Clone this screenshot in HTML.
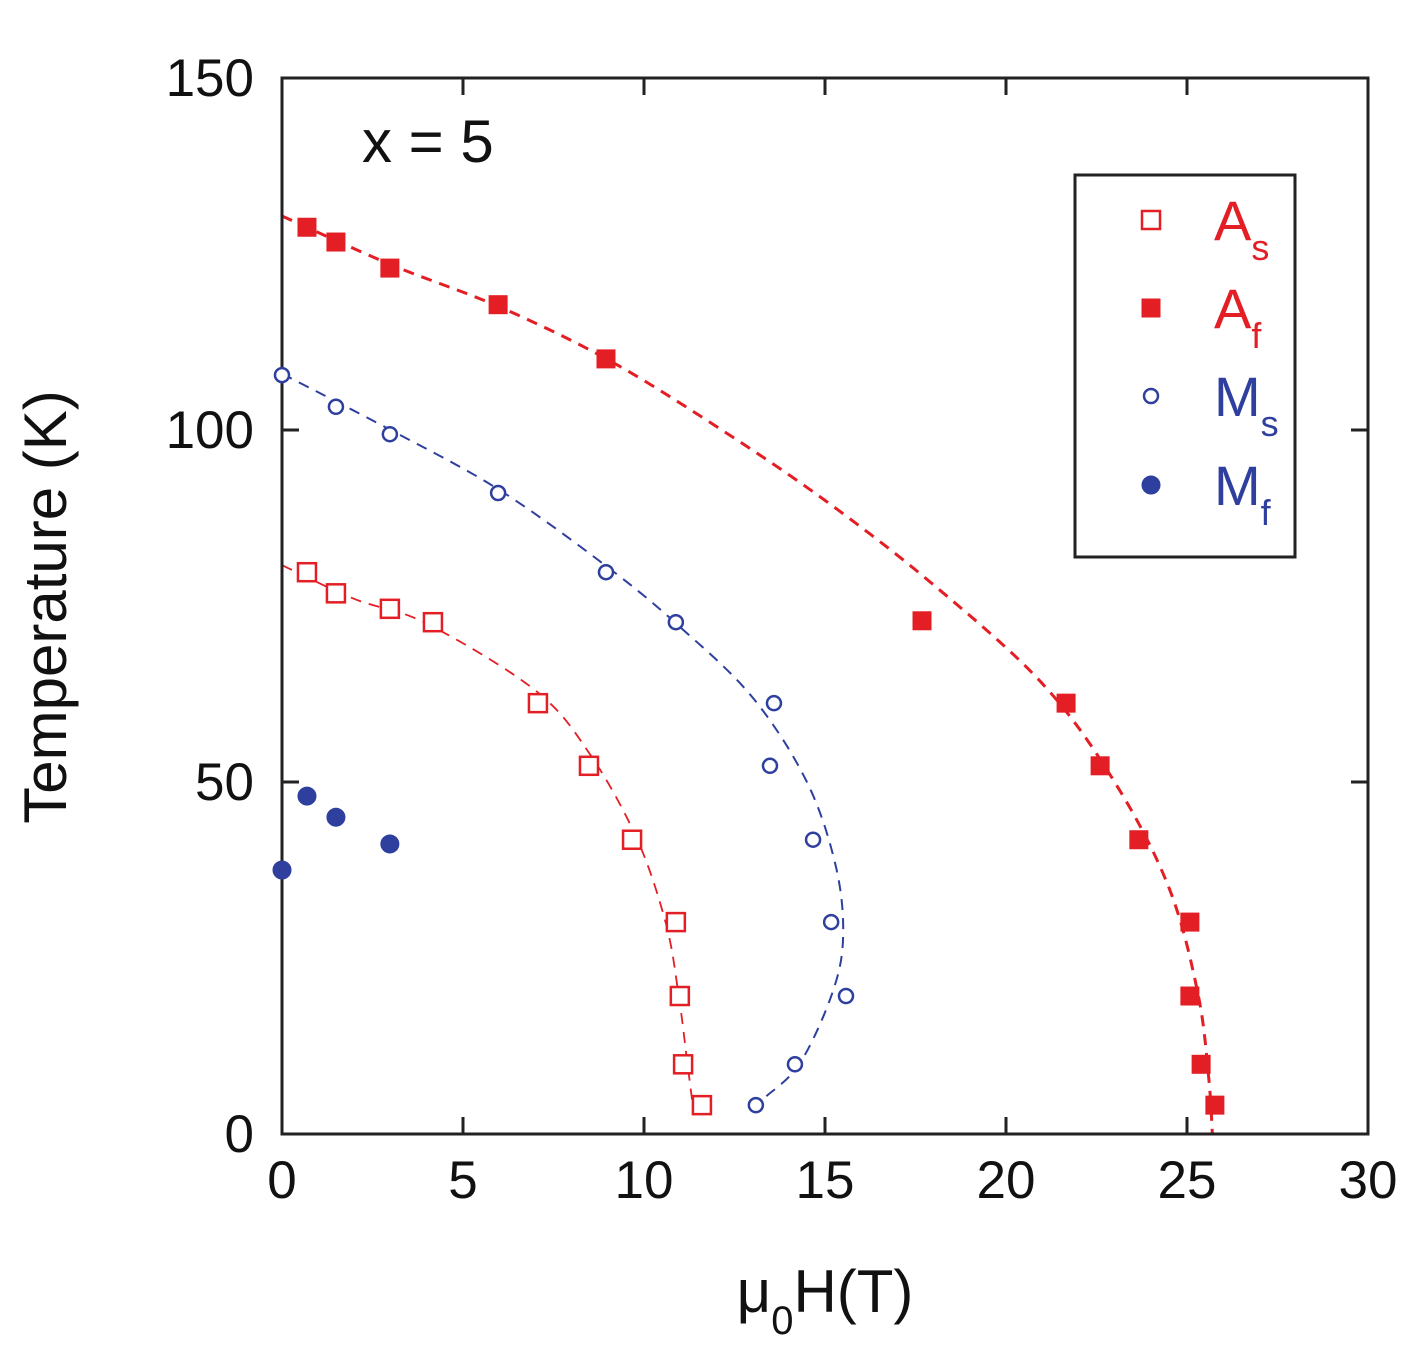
<!DOCTYPE html>
<html><head><meta charset="utf-8"><style>
html,body{margin:0;padding:0;background:#fff;}
svg{display:block;font-family:"Liberation Sans",sans-serif;}
</style></head><body>
<svg id="chart" width="1424" height="1370">
<g id="plot"></g>
</svg>
<script>
const xTicks=[0,5,10,15,20,25,30];
const yTicks=[0,50,100,150];
const afX=[0.69,1.49,2.98,5.97,8.95,17.68,21.66,22.6,23.67,25.08,25.08,25.39,25.77];
const afY=[128.8,126.7,123.0,117.8,110.1,72.9,61.2,52.3,41.8,30.1,19.6,9.9,4.1];
const asX=[0.69,1.49,2.98,4.17,7.07,8.48,9.67,10.88,10.99,11.08,11.6];
const asY=[79.8,76.8,74.6,72.7,61.2,52.3,41.8,30.1,19.6,9.9,4.1];
const msX=[0,1.49,2.98,5.97,8.95,10.88,13.59,13.48,14.67,15.17,15.58,14.17,13.09];
const msY=[107.8,103.3,99.4,91.05,79.8,72.7,61.2,52.3,41.8,30.1,19.6,9.9,4.1];
const mfX=[0,0.69,1.49,2.98];
const mfY=[37.5,48.0,45.0,41.2];
const afFitX=[0,3,6,9,12,15,18,21,23,24.5,25.3,25.6,25.7];
const afFitY=[130.4,123.5,117.5,110,100.5,90,78,64,50,35,20,8,0];
const asFitX=[0,2,4,7,8.5,9.8,10.6,10.95,11.2,11.35];
const asFitY=[80.8,76,72.5,63,54,42,30,20,10,4];
const msFitX=[0,3,6,9,11,13,14.5,15.3,15.5,15.2,14.3,13.3,12.9];
const msFitY=[108,100,91.5,80.5,72,62,50,38,28,20,10,5,3];

const X0=282,X1=1368,Y0=1134,Y1=78;
const sx=v=>X0+(v-0)/(30-0)*(X1-X0);
const sy=v=>Y0-(v-0)/(150-0)*(Y0-Y1);
const NS="http://www.w3.org/2000/svg";
const g=document.getElementById('plot');
function mk(t,a,p){const e=document.createElementNS(NS,t);for(const k in a)e.setAttribute(k,a[k]);(p||g).appendChild(e);return e;}
const RED="#e31e24",BLUE="#2e3f9e";

function curve(xs,ys,color,w,name){
  const pts=xs.map((x,i)=>[sx(x),sy(ys[i])]);
  let d="M"+pts[0][0]+","+pts[0][1];
  for(let i=0;i<pts.length-1;i++){
    const p0=pts[i-1]||pts[i],p1=pts[i],p2=pts[i+1],p3=pts[i+2]||p2;
    d+=" C"+(p1[0]+(p2[0]-p0[0])/6)+","+(p1[1]+(p2[1]-p0[1])/6)+" "+(p2[0]-(p3[0]-p1[0])/6)+","+(p2[1]-(p3[1]-p1[1])/6)+" "+p2[0]+","+p2[1];
  }
  const e=mk('path',{d:d,fill:'none',stroke:color,'stroke-width':w,'stroke-dasharray':'11,8'});
  
  
}
curve(afFitX,afFitY,RED,3,'af-fit-curve');
curve(asFitX,asFitY,RED,1.8,'as-fit-curve');
curve(msFitX,msFitY,BLUE,2,'ms-fit-curve');

const fr=mk('rect',{x:X0,y:Y1,width:X1-X0,height:Y0-Y1,fill:'none',stroke:'#222','stroke-width':3});


xTicks.forEach(t=>{
  const x=sx(t);
  if(t>0&&t<30){mk('line',{x1:x,x2:x,y1:Y0,y2:Y0-17,stroke:'#222','stroke-width':3});mk('line',{x1:x,x2:x,y1:Y1,y2:Y1+17,stroke:'#222','stroke-width':3});}
  const l=mk('text',{x:x,y:1198,'font-size':53,'text-anchor':'middle',fill:'#111'});l.textContent=t;
  
  
});
yTicks.forEach(t=>{
  const y=sy(t);
  if(t>0&&t<150){mk('line',{x1:X0,x2:X0+17,y1:y,y2:y,stroke:'#222','stroke-width':3});mk('line',{x1:X1,x2:X1-17,y1:y,y2:y,stroke:'#222','stroke-width':3});}
  const l=mk('text',{x:254,y:y+18,'font-size':53,'text-anchor':'end',fill:'#111'});l.textContent=t;
  
  
});

function sq(x,y,filled,name){
  const e=mk('rect',{x:x-9,y:y-9,width:18,height:18,fill:filled?RED:'#fff',stroke:RED,'stroke-width':filled?1:2.5});
  
  
}
function circ(x,y,filled,name){
  const e=mk('circle',{cx:x,cy:y,r:filled?9:7,fill:filled?BLUE:'#fff',stroke:BLUE,'stroke-width':filled?1:2.5});
  
  
}
asX.forEach((v,i)=>sq(sx(v),sy(asY[i]),false,'as-point'));
afX.forEach((v,i)=>sq(sx(v),sy(afY[i]),true,'af-point'));
msX.forEach((v,i)=>circ(sx(v),sy(msY[i]),false,'ms-point'));
mfX.forEach((v,i)=>circ(sx(v),sy(mfY[i]),true,'mf-point'));

let t=mk('text',{x:362,y:162,'font-size':60,fill:'#111'});t.textContent='x = 5';


t=mk('text',{x:825,y:1312,'font-size':60,'text-anchor':'middle',fill:'#111'});
t.innerHTML='μ<tspan font-size="40" dy="22">0</tspan><tspan dy="-22">H(T)</tspan>';


t=mk('text',{x:0,y:0,'font-size':60,'text-anchor':'middle',fill:'#111',transform:'translate(66,607) rotate(-90)'});
t.textContent='Temperature (K)';



const lg=mk('g',{});


mk('rect',{x:1075,y:175,width:220,height:382,fill:'#fff',stroke:'#222','stroke-width':3},lg);
const ent=[['A','s',RED,'sq',false,220],['A','f',RED,'sq',true,308],['M','s',BLUE,'c',false,396],['M','f',BLUE,'c',true,485]];
ent.forEach(e=>{
  const grp=mk('g',{},lg);
  
  
  if(e[3]=='sq'){mk('rect',{x:1142,y:e[5]-9,width:18,height:18,fill:e[4]?RED:'#fff',stroke:RED,'stroke-width':e[4]?1:2.5},grp);}
  else{mk('circle',{cx:1151,cy:e[5],r:e[4]?9:7,fill:e[4]?BLUE:'#fff',stroke:BLUE,'stroke-width':e[4]?1:2.5},grp);}
  const tx=mk('text',{x:1214,y:e[5]+20,'font-size':56,fill:e[2]},grp);
  tx.innerHTML=e[0]+'<tspan font-size="36" dy="20">'+e[1]+'</tspan>';
});
</script>
</body></html>
